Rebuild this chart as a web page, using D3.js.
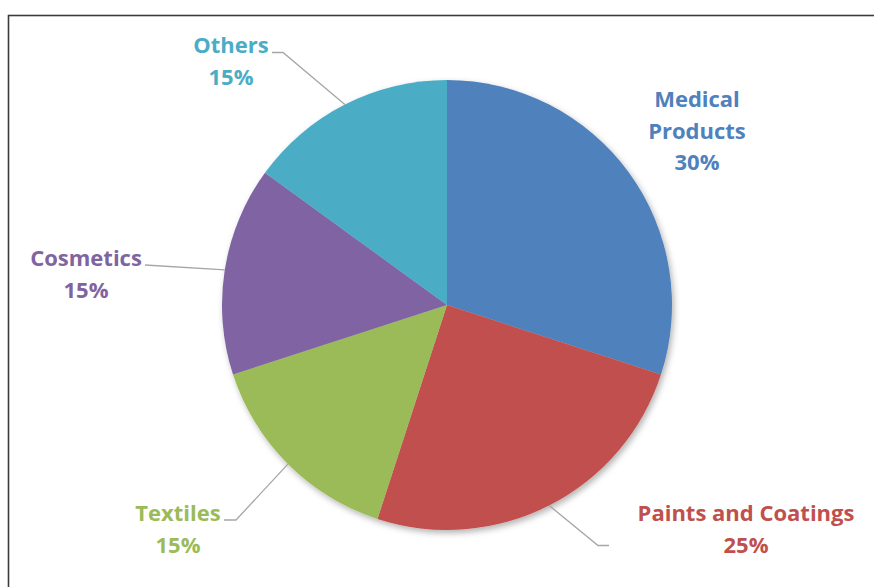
<!DOCTYPE html>
<html>
<head>
<meta charset="utf-8">
<script src="https://cdn.jsdelivr.net/npm/d3@7"></script>
<style>
  html, body { margin: 0; padding: 0; background: #fff; }
  svg { display: block; }
</style>
</head>
<body>
<svg id="chart" width="874" height="587"></svg>
<script>
// Market share by application
const categories = ["Medical Products", "Paints and Coatings", "Textiles", "Cosmetics", "Others"];
const shares = [30, 25, 15, 15, 15];
const colors = ["#4F81BD", "#C0504D", "#9BBB59", "#8064A2", "#4BACC6"];
// label text lines per category
const labelLines = [["Medical", "Products"], ["Paints and Coatings"], ["Textiles"], ["Cosmetics"], ["Others"]];

// label placement (center x, first baseline y) and leader-line elbow
const labelLayout = [
  { x: 697, y: 107, leader: null },
  { x: 746, y: 521, leader: { elbow: [598, 545.5], end: [609, 545.5] } },
  { x: 178, y: 521, leader: { elbow: [236, 520], end: [224, 520] } },
  { x: 86,  y: 266, leader: { elbow: null, end: [145, 265] } },
  { x: 231, y: 53,  leader: { elbow: [283, 52.5], end: [272, 52.5] } }
];

const svg = d3.select("#chart");
const cx = 447, cy = 305, radius = 225;
const lineH = 31.5;

const defs = svg.append("defs");
const f = defs.append("filter").attr("id", "shadow")
  .attr("x", "-10%").attr("y", "-10%").attr("width", "125%").attr("height", "125%");
f.append("feDropShadow").attr("dx", 2).attr("dy", 3).attr("stdDeviation", 3)
  .attr("flood-color", "#000").attr("flood-opacity", 0.3);

// chart frame
svg.append("rect")
  .attr("x", 8.5).attr("y", 15.5).attr("width", 900).attr("height", 620)
  .attr("fill", "none").attr("stroke", "#3c3c3c").attr("stroke-width", 1.6);

const data = categories.map((c, i) => ({ name: c, value: shares[i], color: colors[i], lines: labelLines[i], layout: labelLayout[i] }));

const pie = d3.pie().value(d => d.value).sort(null);
const arc = d3.arc().innerRadius(0).outerRadius(radius);
const arcs = pie(data);

const g = svg.append("g").attr("transform", `translate(${cx},${cy})`);
g.append("g").attr("filter", "url(#shadow)")
  .selectAll("path").data(arcs).join("path")
  .attr("d", arc)
  .attr("fill", d => d.data.color);

// leader lines from the slice edge at mid-angle
const edge = d => {
  const a = (d.startAngle + d.endAngle) / 2;
  return [cx + radius * Math.sin(a), cy - radius * Math.cos(a)];
};
arcs.forEach(d => {
  const L = d.data.layout.leader;
  if (!L) return;
  const pts = [edge(d)];
  if (L.elbow) pts.push(L.elbow);
  pts.push(L.end);
  svg.append("path")
    .attr("d", d3.line()(pts))
    .attr("fill", "none")
    .attr("stroke", "#a6a6a6")
    .attr("stroke-width", 1.3);
});

// labels: category name lines then percentage
arcs.forEach(d => {
  const lay = d.data.layout;
  const lines = d.data.lines.concat([d3.format(".0f")(d.value) + "%"]);
  const t = svg.append("text")
    .attr("text-anchor", "middle")
    .attr("font-family", "'Open Sans', sans-serif")
    .attr("font-weight", "bold")
    .attr("font-size", 22)
    .attr("fill", d.data.color);
  lines.forEach((s, i) => {
    t.append("tspan").attr("x", lay.x).attr("y", lay.y + i * lineH).text(s);
  });
});
</script>
</body>
</html>
